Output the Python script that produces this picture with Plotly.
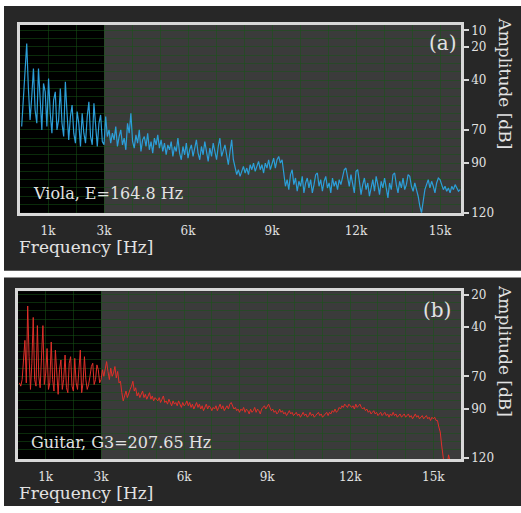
import plotly.graph_objects as go

# ---------------- data ----------------
VIOLA_STEP_HZ = 60
viola_db = [
    # 60 .. 3000 Hz
    68, 52, 38, 18, 45, 64, 50, 33, 58, 66, 33, 55, 70, 42, 47, 68, 39, 60, 72, 52,
    47, 70, 64, 45, 66, 74, 41, 60, 76, 62, 55, 72, 78, 59, 66, 80, 60, 72, 78, 62,
    53, 74, 79, 54, 70, 80, 66, 61, 77, 79,
    # 3060 .. 9480 Hz
    62, 74, 70, 78, 72, 76, 68, 80, 74, 70, 79, 75, 82, 66, 72, 60, 77, 81, 73, 78,
    70, 83, 76, 74, 80, 72, 82, 77, 84, 75, 79, 73, 81, 76, 83, 78, 85, 79, 82, 77,
    86, 80, 83, 75, 84, 88, 80, 85, 78, 87, 82, 79, 86, 81, 76, 84, 88, 80, 85, 77,
    83, 89, 81, 86, 78, 84, 88, 80, 75, 86, 82, 79, 85, 91, 83, 76, 88, 93, 97, 94,
    98, 95, 92, 96, 93, 97, 91, 94, 90, 95, 92, 89, 94, 91, 96, 90, 93, 88, 94, 91,
    87, 93, 88, 86, 90, 88, 95, 104,
    # 9540 .. 15720 Hz
    100, 106, 97, 94, 103, 99, 107, 101, 104, 98, 108, 102, 99, 105, 100, 108, 103, 97, 96, 104,
    100, 107, 101, 98, 105, 102, 108, 99, 104, 101, 106, 100, 103, 98, 94, 93, 99, 104, 97, 102,
    108, 95, 94, 101, 109, 103, 99, 106, 102, 110, 104, 100, 107, 98, 103, 109, 101, 105, 99, 104,
    111, 102, 106, 97, 96, 103, 108, 101, 105, 99, 106, 103, 97, 98, 104, 107, 102, 106, 110, 116,
    120, 113, 106, 103, 100, 105, 101, 104, 108, 102, 99, 100, 103, 106, 104, 107, 105, 108, 104, 106,
    103, 105, 107, 106,
]
viola_freq = [VIOLA_STEP_HZ * (i + 1) for i in range(len(viola_db))]

GUITAR_STEP_HZ = 50
guitar_db = [
    # 50 .. 3000 Hz
    74, 76, 72, 58, 48, 74, 27, 58, 78, 62, 34, 72, 76, 39, 70, 77, 52, 39, 75, 68,
    53, 78, 74, 49, 72, 79, 54, 70, 81, 66, 60, 78, 72, 57, 77, 80, 62, 58, 76, 79,
    59, 74, 78, 66, 54, 80, 74, 58, 72, 78, 75, 70, 64, 62, 75, 72, 63, 66, 74, 72,
    # 3050 .. 4000
    66, 70, 64, 61, 67, 72, 65, 70, 68, 64, 71, 67, 74, 73, 80, 85, 82, 79, 83, 80,
    # 4050 .. 5000
    78, 76, 73, 79, 77, 82, 80, 83, 81, 79, 83, 81, 84, 82, 80, 84, 82, 85, 83, 84,
    # 5050 .. 6000
    85, 83, 86, 84, 82, 86, 85, 87, 84, 86, 88, 85, 87, 86, 88, 85, 87, 89, 86, 88,
    # 6050 .. 7000
    87, 85, 88, 86, 89, 87, 90, 88, 86, 89, 87, 90, 88, 91, 89, 87, 90, 88, 89, 91,
    # 7050 .. 8000
    89, 90, 88, 91, 89, 87, 90, 88, 91, 89, 88, 90, 87, 86, 88, 90, 89, 91, 90, 92,
    # 8050 .. 9000
    90, 91, 89, 92, 90, 91, 93, 90, 92, 91, 89, 92, 90, 91, 93, 90, 89, 88, 90, 88,
    # 9050 .. 10000
    87, 89, 91, 90, 92, 91, 93, 92, 90, 92, 91, 93, 92, 94, 92, 91, 93, 92, 94, 93,
    # 10050 .. 11000
    92, 94, 93, 95, 93, 92, 94, 93, 95, 94, 92, 94, 93, 95, 94, 93, 92, 94, 93, 95,
    # 11050 .. 12000
    94, 93, 92, 94, 92, 93, 91, 92, 90, 92, 91, 89, 90, 88, 89, 87, 88, 89, 87, 88,
    # 12050 .. 13000
    89, 88, 90, 87, 89, 88, 87, 89, 90, 89, 91, 90, 92, 91, 93, 92, 91, 93, 92, 94,
    # 13050 .. 14000
    93, 92, 94, 93, 92, 94, 93, 95, 93, 94, 92, 94, 93, 95, 94, 93, 95, 94, 93, 95,
    # 14050 .. 15000
    94, 93, 95, 94, 96, 94, 93, 95, 94, 96, 95, 94, 96, 95, 94, 96, 95, 97, 95, 96,
    # 15050 .. 15650
    95, 97, 97, 101, 104, 112, 122, 125, 125, 125, 118, 123, 125,
]
guitar_freq = [GUITAR_STEP_HZ * (i + 1) for i in range(len(guitar_db))]

x_tickvals = [1000, 3000, 6000, 9000, 12000, 15000]
x_ticktext = ["1k", "3k", "6k", "9k", "12k", "15k"]
x_gridvals = [1000, 2000, 3000, 4000, 5000, 6000, 7000, 8000, 9000, 10000, 11000, 12000, 13000, 14000, 15000]
ya_tickvals = [10, 20, 40, 70, 90, 120]
yb_tickvals = [20, 40, 70, 90, 120]
ya_gridvals = list(range(10, 120, 5))
yb_gridvals = list(range(20, 120, 5))

# ---------------- styling ----------------
W, H = 521, 513
PANEL = "#272727"
GREY = "#3b3b3b"
FRAME = "#d8d8d8"
TXT = "#e2e2e2"
GRID = "rgba(22,85,22,0.5)"
FONT = "DejaVu Serif"


def px(x):
    return x / W


def py(y):
    return 1 - y / H


fig = go.Figure()
fig.add_trace(go.Scatter(x=viola_freq, y=viola_db, mode="lines",
                         line=dict(color="#2c9ed8", width=1.2),
                         xaxis="x", yaxis="y", hoverinfo="skip"))
fig.add_trace(go.Scatter(x=guitar_freq, y=guitar_db, mode="lines",
                         line=dict(color="#e0302a", width=1),
                         xaxis="x2", yaxis="y2", hoverinfo="skip"))


def xaxis(domain, rng):
    return dict(domain=domain, range=rng, tickmode="array", tickvals=x_tickvals,
                ticktext=x_ticktext, ticks="", showgrid=False, zeroline=False,
                showline=True, mirror=True, linecolor=FRAME, linewidth=2.5,
                ticklabelstandoff=5,
                tickfont=dict(family=FONT, size=12, color=TXT),
                minor=dict(tickvals=x_gridvals, showgrid=True, gridcolor=GRID, gridwidth=1, ticks=""))


def yaxis(domain, rng, tv, gv, anchor):
    return dict(domain=domain, range=rng, tickmode="array", tickvals=tv,
                ticktext=[str(v) for v in tv], side="right", anchor=anchor,
                ticks="outside", ticklen=5, tickcolor=FRAME, tickwidth=1.5,
                showgrid=False, zeroline=False,
                showline=True, mirror=True, linecolor=FRAME, linewidth=2.5,
                tickfont=dict(family=FONT, size=12, color=TXT),
                minor=dict(tickvals=gv, showgrid=True, gridcolor=GRID, gridwidth=1, ticks=""))


fig.update_layout(
    width=W, height=H, margin=dict(l=0, r=0, t=0, b=0),
    paper_bgcolor="white", plot_bgcolor="rgba(0,0,0,0)", showlegend=False,
    xaxis=xaxis([px(20), px(461)], [0, 15750]),
    yaxis=yaxis([py(214), py(22)], [120, 6.5], ya_tickvals, ya_gridvals, "x"),
    xaxis2=xaxis([px(18), px(461)], [0, 16000]),
    yaxis2=yaxis([py(465), py(294)], [120.5, 18], yb_tickvals, yb_gridvals, "x2"),
)
fig.layout.xaxis.anchor = "y"
fig.layout.xaxis2.anchor = "y2"

shapes = [
    # dark panels
    dict(type="rect", xref="paper", yref="paper", x0=px(4), x1=1, y0=py(273), y1=py(3),
         fillcolor=PANEL, line=dict(width=0), layer="below"),
    dict(type="rect", xref="paper", yref="paper", x0=px(4), x1=1, y0=0, y1=py(280),
         fillcolor=PANEL, line=dict(width=0), layer="below"),
]
for xr, yr, xend in (("x", "y", 15750), ("x2", "y2", 16000)):
    shapes.append(dict(type="rect", xref=xr, yref=yr + " domain", x0=0, x1=3000, y0=0, y1=1,
                       fillcolor="black", line=dict(width=0), layer="below"))
    shapes.append(dict(type="rect", xref=xr, yref=yr + " domain", x0=3000, x1=xend, y0=0, y1=1,
                       fillcolor=GREY, line=dict(width=0), layer="below"))
fig.update_layout(shapes=shapes)

ann = []


def add_text(text, x, y, size, xanchor="left", angle=0):
    ann.append(dict(text=text, x=px(x), y=py(y), xref="paper", yref="paper",
                    xanchor=xanchor, yanchor="middle", showarrow=False, textangle=angle,
                    font=dict(family=FONT, size=size, color=TXT)))


add_text("Frequency [Hz]", 17, 249, 17)
add_text("Frequency [Hz]", 17, 500, 17)
add_text("Amplitude [dB]", 505, 82, 17, xanchor="center", angle=90)
add_text("Amplitude [dB]", 505, 355, 17, xanchor="center", angle=90)
add_text("(a)", 443, 41, 20, xanchor="center")
add_text("(b)", 437, 313, 20, xanchor="center")
add_text("Viola, E=164.8 Hz", 31, 194, 16)
add_text("Guitar, G3=207.65 Hz", 29, 448, 16)
fig.update_layout(annotations=ann)

fig.write_html("out.html", config={"displayModeBar": False},
               post_script="document.body.style.margin='0';document.body.style.overflow='hidden';")
